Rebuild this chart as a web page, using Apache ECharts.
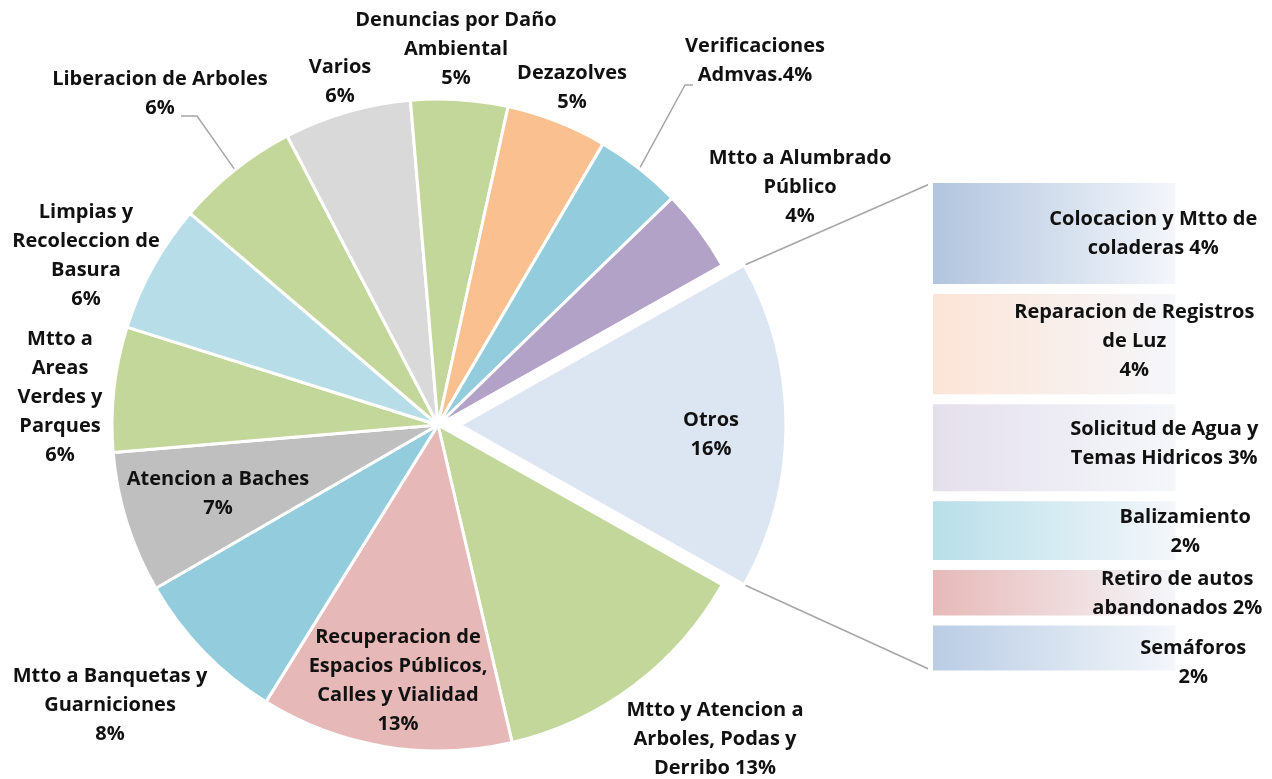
<!DOCTYPE html>
<html>
<head>
<meta charset="utf-8">
<script src="https://cdn.jsdelivr.net/npm/echarts@6/dist/echarts.min.js"></script>
<style>
  html, body { margin: 0; padding: 0; background: #fff; }
  #chart { width: 1272px; height: 779px; }
</style>
</head>
<body>
<div id="chart"></div>
<script>
// main pie, clockwise from the exploded "Otros" slice
const pieNames = [
  "Otros", "Mtto y Atencion a Arboles, Podas y Derribo", "Recuperacion de Espacios Públicos, Calles y Vialidad",
  "Mtto a Banquetas y Guarniciones", "Atencion a Baches", "Mtto a Areas Verdes y Parques",
  "Limpias y Recoleccion de Basura", "Liberacion de Arboles", "Varios", "Denuncias por Daño Ambiental",
  "Dezazolves", "Verificaciones Admvas.", "Mtto a Alumbrado Público"
];
const pieValues = [16.3, 13.2, 12.5, 7.8, 7.0, 6.2, 6.4, 6.1, 6.3, 4.8, 5.0, 4.3, 4.1];
const pieLabels = [
  "Otros\n16%", "Mtto y Atencion a\nArboles, Podas y\nDerribo 13%",
  "Recuperacion de\nEspacios Públicos,\nCalles y Vialidad\n13%", "Mtto a Banquetas y\nGuarniciones\n8%",
  "Atencion a Baches\n7%", "Mtto a\nAreas\nVerdes y\nParques\n6%", "Limpias y\nRecoleccion de\nBasura\n6%",
  "Liberacion de Arboles\n6%", "Varios\n6%", "Denuncias por Daño\nAmbiental\n5%", "Dezazolves\n5%",
  "Verificaciones\nAdmvas.4%", "Mtto a Alumbrado\nPúblico\n4%"
];
const pieColors = ["#dce6f2", "#c4d79b", "#e6b9b8", "#93cddd", "#bfbfbf", "#c4d79b", "#b7dee8",
  "#c4d79b", "#d9d9d9", "#c4d79b", "#fac090", "#93cddd", "#b3a2c7"];
const pieLabelPos = [[711, 435], [715, 739], [398, 681], [110, 705], [218, 494], [60, 397], [86, 256],
  [160, 94], [340, 82], [456, 49], [572, 88], [755, 61], [800, 187]];
// leader lines: elbow and end point next to the label
const pieLeader = { 7: [[197, 116], [181, 116]], 11: [[685, 85], [693, 85]] };

// breakdown of "Otros" (bar of pie)
const subNames = ["Colocacion y Mtto de coladeras", "Reparacion de Registros de Luz", "Solicitud de Agua y Temas Hidricos",
  "Balizamiento", "Retiro de autos abandonados", "Semáforos"];
const subValues = [3.64, 3.61, 3.18, 2.25, 1.82, 1.80];
const subLabels = ["Colocacion y Mtto de\ncoladeras 4%", "Reparacion de Registros\nde Luz\n4%",
  "Solicitud de Agua y\nTemas Hidricos 3%", "Balizamiento\n2%", "Retiro de autos\nabandonados 2%", "Semáforos\n2%"];
const subColors = ["#b0c4de", "#fce4d6", "#e4dfec", "#b7dee8", "#e6b8b7", "#b8cce4"];
const subLabelOffset = [[99, 0], [80, -3], [110, -4], [131, 1], [123, 1], [139, 15]];

const FONT = { fontFamily: "Open Sans", fontWeight: "bold", fontSize: 20, lineHeight: 29, color: "#111" };
const CX = 438, CY = 425, R = 326, EXPLODE = 22;
const BAR = { left: 928, top: 178, right: 1180.5, bottom: 675.5 };

const total = pieValues.reduce((a, b) => a + b, 0);
const otrosHalf = pieValues[0] / total * 180;

const chart = echarts.init(document.getElementById("chart"));

// Same pie drawn twice: the second copy, shifted right, only shows "Otros" (the exploded slice)
function pieSeries(exploded) {
  return {
    type: "pie",
    center: [exploded ? CX + EXPLODE : CX, CY],
    radius: R,
    startAngle: otrosHalf,
    clockwise: true,
    silent: true,
    emphasis: { disabled: true },
    itemStyle: { borderColor: "#fff", borderWidth: 3 },
    label: { ...FONT, align: "center", overflow: "none", alignTo: "none" },
    labelLine: { show: false },
    labelLayout: params => {
      const i = params.dataIndex;
      const out = { x: pieLabelPos[i][0], y: pieLabelPos[i][1], align: "center", verticalAlign: "middle" };
      if (pieLeader[i] && params.labelLinePoints) {
        out.labelLinePoints = [params.labelLinePoints[0], ...pieLeader[i]];
      }
      return out;
    },
    data: pieNames.map((name, i) => {
      const visible = exploded ? i === 0 : i !== 0;
      if (!visible) {
        return { name, value: pieValues[i], itemStyle: { color: "rgba(0,0,0,0)", borderWidth: 0 },
          label: { show: false }, labelLine: { show: false } };
      }
      return {
        name,
        value: pieValues[i],
        itemStyle: { color: pieColors[i] },
        label: { formatter: pieLabels[i] },
        labelLine: pieLeader[i]
          ? { show: true, length: 12, length2: 8, lineStyle: { color: "#a6a6a6", width: 1.5 } }
          : { show: false }
      };
    })
  };
}

chart.setOption({
  animation: false,
  grid: { left: BAR.left, top: BAR.top, width: BAR.right - BAR.left, height: BAR.bottom - BAR.top },
  xAxis: { type: "category", data: ["Otros"], show: false },
  yAxis: { type: "value", min: 0, max: subValues.reduce((a, b) => a + b, 0), inverse: true, show: false },
  series: [
    pieSeries(false),
    pieSeries(true),
    ...subNames.map((name, i) => ({
      type: "bar",
      name,
      stack: "otros",
      barWidth: "100%",
      silent: true,
      itemStyle: {
        borderColor: "#fff",
        borderWidth: 5,
        color: new echarts.graphic.LinearGradient(0, 0, 1, 0, [
          { offset: 0, color: subColors[i] },
          { offset: 1, color: "#f5f7fb" }
        ])
      },
      label: {
        show: true,
        position: "inside",
        offset: subLabelOffset[i],
        formatter: subLabels[i],
        ...FONT,
        align: "center"
      },
      data: [subValues[i]]
    }))
  ],
  graphic: (() => {
    const ex = CX + EXPLODE;
    const a = otrosHalf * Math.PI / 180;
    const top = [ex + R * Math.cos(a), CY - R * Math.sin(a)];
    const bot = [ex + R * Math.cos(a), CY + R * Math.sin(a)];
    const lineStyle = { stroke: "#a6a6a6", lineWidth: 1.5 };
    return [
      { type: "line", shape: { x1: top[0], y1: top[1], x2: BAR.left + 4, y2: BAR.top + 5 }, style: lineStyle },
      { type: "line", shape: { x1: bot[0], y1: bot[1], x2: BAR.left + 4, y2: BAR.bottom - 5 }, style: lineStyle }
    ];
  })()
});
</script>
</body>
</html>
